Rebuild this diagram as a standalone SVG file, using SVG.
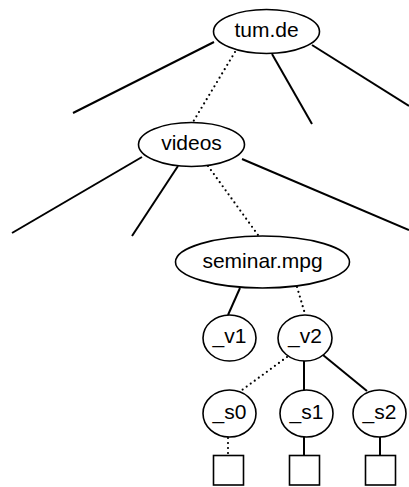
<svg xmlns="http://www.w3.org/2000/svg" width="409" height="487" viewBox="0 0 409 487">
<style>
.n{fill:#fff;stroke:#000;stroke-width:1.6}
.t{font-family:"Liberation Sans",Arial,sans-serif;font-size:21px;text-anchor:middle;fill:#000}
.s{stroke:#000;stroke-width:2;fill:none}
.d{stroke:#000;stroke-width:2.2;fill:none;stroke-dasharray:0 5;stroke-linecap:round}
</style>
<rect width="409" height="487" fill="#fff"/>
<g id="connectors">
<line class="s" x1="214" y1="42" x2="73" y2="113"/>
<line class="d" x1="235" y1="52" x2="193" y2="122"/>
<line class="s" x1="272" y1="54" x2="312" y2="124"/>
<line class="s" x1="312" y1="45" x2="409" y2="106"/>
<line class="s" x1="142" y1="157" x2="12" y2="233"/>
<line class="s" x1="178" y1="166" x2="132" y2="236"/>
<line class="d" x1="208" y1="166" x2="258" y2="235"/>
<line class="s" x1="242" y1="159" x2="409" y2="230"/>
<line class="s" x1="240" y1="288" x2="228" y2="315"/>
<line class="d" x1="297" y1="287" x2="305" y2="314"/>
<line class="d" x1="287" y1="357" x2="242" y2="390"/>
<line class="s" x1="304" y1="361" x2="304" y2="390"/>
<line class="s" x1="323" y1="355" x2="367" y2="391"/>
<line class="d" x1="228" y1="438" x2="228" y2="454"/>
<line class="s" x1="304" y1="437" x2="304" y2="455"/>
<line class="s" x1="380" y1="437" x2="380" y2="455"/>
</g>
<g id="tum"><ellipse class="n" cx="266.5" cy="31.5" rx="53" ry="22"/><text class="t" x="266.5" y="37">tum.de</text></g>
<g id="videos"><ellipse class="n" cx="191.5" cy="144.5" rx="53" ry="22"/><text class="t" x="191.5" y="150">videos</text></g>
<g id="seminar"><ellipse class="n" cx="262.5" cy="262" rx="87" ry="26"/><text class="t" x="262.5" y="267.5">seminar.mpg</text></g>
<g id="v1"><ellipse class="n" cx="229.5" cy="338" rx="26.5" ry="23"/><text class="t" x="229.5" y="343">_v1</text></g>
<g id="v2"><ellipse class="n" cx="305" cy="338" rx="27" ry="23"/><text class="t" x="305" y="343">_v2</text></g>
<g id="s0"><ellipse class="n" cx="229.5" cy="413.5" rx="26.5" ry="23.5"/><text class="t" x="229.5" y="419">_s0</text></g>
<g id="s1"><ellipse class="n" cx="306.5" cy="413.5" rx="26.5" ry="23.5"/><text class="t" x="306.5" y="419">_s1</text></g>
<g id="s2"><ellipse class="n" cx="379.5" cy="413.5" rx="26.5" ry="23.5"/><text class="t" x="379.5" y="419">_s2</text></g>
<g id="b0"><rect class="n" x="213.5" y="455.5" width="30" height="29.5"/></g>
<g id="b1"><rect class="n" x="289.5" y="455.5" width="30" height="29.5"/></g>
<g id="b2"><rect class="n" x="365.5" y="455.5" width="30" height="29.5"/></g>
</svg>
